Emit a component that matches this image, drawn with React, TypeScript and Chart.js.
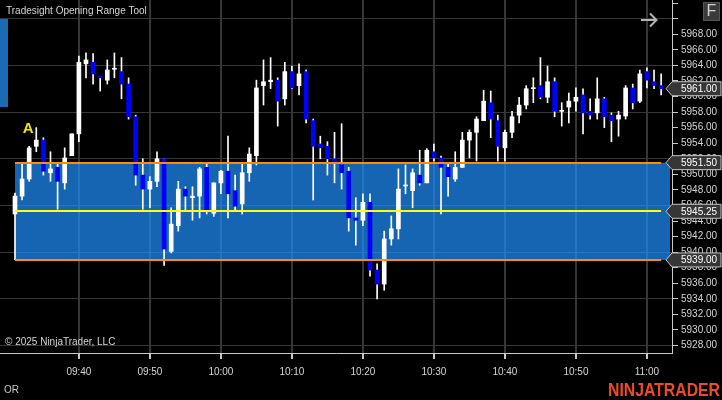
import React, { useEffect, useRef } from 'react';
import { Chart, registerables } from 'chart.js';

Chart.register(...registerables);

// ---------- data ----------
const BAR_TIMES = [
  '09:31', '09:32', '09:33', '09:34', '09:35', '09:36', '09:37', '09:38', '09:39', '09:40',
  '09:41', '09:42', '09:43', '09:44', '09:45', '09:46', '09:47', '09:48', '09:49', '09:50',
  '09:51', '09:52', '09:53', '09:54', '09:55', '09:56', '09:57', '09:58', '09:59', '10:00',
  '10:01', '10:02', '10:03', '10:04', '10:05', '10:06', '10:07', '10:08', '10:09', '10:10',
  '10:11', '10:12', '10:13', '10:14', '10:15', '10:16', '10:17', '10:18', '10:19', '10:20',
  '10:21', '10:22', '10:23', '10:24', '10:25', '10:26', '10:27', '10:28', '10:29', '10:30',
  '10:31', '10:32', '10:33', '10:34', '10:35', '10:36', '10:37', '10:38', '10:39', '10:40',
  '10:41', '10:42', '10:43', '10:44', '10:45', '10:46', '10:47', '10:48', '10:49', '10:50',
  '10:51', '10:52', '10:53', '10:54', '10:55', '10:56', '10:57', '10:58', '10:59', '11:00',
  '11:01', '11:02',
];

const OPEN = [
  5944.9, 5947.2, 5949.4, 5953.6, 5954.4, 5950.2, 5950.9, 5948.9, 5952.4, 5955.2,
  5964.2, 5964.4, 5962.6, 5962.1, 5963.5, 5963.2, 5961.6, 5957.4, 5949.9, 5948.1,
  5949.1, 5952.0, 5940.1, 5943.4, 5948.1, 5947.0, 5947.2, 5950.9, 5945.0, 5948.9,
  5950.4, 5947.9, 5946.2, 5950.2, 5952.4, 5961.4, 5961.9, 5962.1, 5959.7, 5963.2,
  5961.4, 5963.2, 5956.9, 5953.9, 5953.6, 5952.0, 5951.25, 5950.4, 5944.4, 5944.1,
  5946.4, 5937.7, 5935.9, 5941.7, 5943.0, 5948.5, 5947.9, 5949.9, 5948.9, 5952.9,
  5952.1, 5950.9, 5949.4, 5950.9, 5954.4, 5955.4, 5956.9, 5959.2, 5956.9, 5953.4,
  5955.4, 5957.6, 5958.9, 5961.0, 5961.4, 5959.9, 5961.9, 5958.1, 5958.65, 5959.4,
  5960.2, 5958.1, 5957.9, 5959.7, 5957.6, 5957.1, 5957.5, 5961.1, 5959.4, 5963.2,
  5961.9, 5961.4,
];

const HIGH = [
  5947.6, 5951.3, 5953.6, 5956.0, 5954.7, 5952.9, 5951.3, 5953.4, 5955.2, 5965.2,
  5965.6, 5965.5, 5962.6, 5964.7, 5965.6, 5965.0, 5962.4, 5957.6, 5952.0, 5949.7,
  5952.9, 5952.0, 5945.7, 5949.1, 5948.4, 5948.4, 5950.9, 5951.3, 5948.9, 5950.5,
  5954.9, 5949.9, 5951.3, 5953.4, 5962.1, 5964.7, 5965.0, 5962.4, 5964.4, 5963.9,
  5964.2, 5963.4, 5957.1, 5954.9, 5954.2, 5955.4, 5956.5, 5950.9, 5947.0, 5947.5,
  5947.5, 5938.5, 5942.7, 5944.65, 5950.7, 5951.2, 5950.7, 5953.1, 5953.3, 5953.9,
  5952.35, 5951.4, 5952.9, 5955.4, 5955.7, 5957.4, 5960.8, 5960.7, 5957.6, 5955.7,
  5958.1, 5959.9, 5961.4, 5962.4, 5965.0, 5963.9, 5962.4, 5959.2, 5960.45, 5961.1,
  5961.0, 5959.7, 5962.4, 5959.9, 5957.9, 5958.1, 5961.4, 5961.6, 5963.4, 5963.7,
  5963.4, 5962.9,
];

const LOW = [
  5939.0, 5946.7, 5949.1, 5952.9, 5949.9, 5949.1, 5945.5, 5948.1, 5952.4, 5954.2,
  5962.4, 5961.6, 5960.7, 5961.6, 5962.4, 5959.7, 5957.1, 5948.6, 5945.5, 5945.7,
  5948.4, 5938.3, 5939.9, 5942.7, 5945.4, 5944.1, 5944.4, 5944.9, 5944.6, 5947.5,
  5944.4, 5945.3, 5944.9, 5949.1, 5951.2, 5958.9, 5961.0, 5956.2, 5958.9, 5961.0,
  5960.2, 5956.6, 5946.7, 5952.0, 5949.9, 5948.9, 5948.1, 5942.7, 5940.9, 5943.4,
  5936.9, 5934.0, 5935.1, 5940.9, 5941.7, 5947.5, 5945.7, 5948.6, 5948.9, 5951.7,
  5944.9, 5947.2, 5949.1, 5950.9, 5952.1, 5951.7, 5956.9, 5954.7, 5951.7, 5951.7,
  5954.7, 5956.6, 5958.4, 5959.2, 5959.7, 5959.2, 5957.4, 5956.2, 5956.6, 5958.1,
  5955.2, 5957.1, 5957.1, 5956.0, 5954.2, 5954.9, 5957.1, 5958.4, 5959.2, 5961.1,
  5961.0, 5960.2,
];

const CLOSE = [
  5947.2, 5949.4, 5953.4, 5954.4, 5950.4, 5950.7, 5949.1, 5952.1, 5955.2, 5964.4,
  5964.7, 5962.9, 5962.4, 5963.4, 5963.5, 5961.6, 5957.4, 5949.9, 5948.1, 5949.1,
  5952.0, 5940.4, 5943.6, 5948.1, 5947.2, 5947.2, 5950.7, 5945.3, 5948.9, 5950.4,
  5947.5, 5945.9, 5950.2, 5952.6, 5961.1, 5961.9, 5962.1, 5959.4, 5963.2, 5961.1,
  5962.9, 5957.1, 5953.6, 5953.4, 5952.0, 5951.4, 5950.2, 5944.4, 5944.1, 5946.4,
  5937.7, 5935.9, 5941.7, 5943.0, 5948.1, 5948.5, 5950.2, 5948.9, 5953.1, 5952.1,
  5950.9, 5949.7, 5950.9, 5954.4, 5955.4, 5957.1, 5959.4, 5957.1, 5953.6, 5955.4,
  5957.4, 5958.9, 5961.0, 5961.0, 5959.9, 5961.9, 5958.1, 5958.1, 5959.4, 5959.9,
  5957.9, 5957.6, 5959.7, 5957.4, 5956.9, 5957.6, 5961.1, 5959.2, 5962.9, 5962.1,
  5961.4, 5961.0,
];

const TIME_TICKS = ['09:40', '09:50', '10:00', '10:10', '10:20', '10:30', '10:40', '10:50', '11:00'];
const PRICE_TICKS = [
  5928, 5930, 5932, 5934, 5936, 5938, 5940, 5942, 5944, 5946, 5948,
  5950, 5952, 5954, 5956, 5958, 5960, 5962, 5964, 5966, 5968, 5970, 5972,
];
const PRICE_LABEL_MAX = 5968;
const PRICE_GRID_STEP = 6;

const OR_HIGH = 5951.5;
const OR_MID = 5945.25;
const OR_LOW = 5939.0;
const MARKER_A = { time: '09:33', price: 5955.8, text: 'A' };

const SESSION_START = '09:30';

// ---------- styles ----------
const UP = '#ffffff';
const DOWN = '#0000ff';
const WICK = '#ffffff';
const GRID = '#363636';
const AXIS = '#c8c8c8';
const TEXT = '#d4d4d4';
const FONT = '"Liberation Sans", Arial, sans-serif';

const toMin = (t: string) => {
  const [h, m] = t.split(':').map(Number);
  const [h0, m0] = SESSION_START.split(':').map(Number);
  return h * 60 + m - (h0 * 60 + m0);
};

export default function App() {
  const ref = useRef<HTMLCanvasElement>(null);

  useEffect(() => {
    const canvas = ref.current;
    if (!canvas) return;
    const mins = BAR_TIMES.map(toMin);
    const wicks = mins.map((m, i) => ({ x: m, y: [LOW[i], HIGH[i]] }));
    const bodies = mins.map((m, i) => ({ x: m, y: [OPEN[i], CLOSE[i]] }));
    const bodyColors = OPEN.map((o, i) => (CLOSE[i] >= o ? UP : DOWN));
    const lastPrice = CLOSE[CLOSE.length - 1];

    const drawFlag = (ctx: CanvasRenderingContext2D, area: any, y: number, text: string) => {
      const tip = area.right - 6;
      const sh = area.right;
      const r = 721;
      const h = 7;
      ctx.save();
      ctx.beginPath();
      ctx.moveTo(tip, y);
      ctx.lineTo(sh, y - h);
      ctx.lineTo(r, y - h);
      ctx.lineTo(r, y + h);
      ctx.lineTo(sh, y + h);
      ctx.closePath();
      ctx.fillStyle = '#363636';
      ctx.fill();
      ctx.lineWidth = 1;
      ctx.strokeStyle = '#c4c4c4';
      ctx.stroke();
      ctx.fillStyle = '#ffffff';
      ctx.font = `10px ${FONT}`;
      ctx.textBaseline = 'middle';
      ctx.textAlign = 'left';
      ctx.fillText(text, 681, y + 0.5);
      ctx.restore();
    };

    const overlay = {
      id: 'overlay',
      beforeDatasetsDraw(chart: any) {
        const { ctx, chartArea: a, scales } = chart;
        ctx.save();
        // vertical time grid lines and axis tick marks from the x scale
        ctx.lineWidth = 1;
        scales.x.ticks.forEach((t: any) => {
          const px = Math.round(scales.x.getPixelForValue(t.value)) + 0.5;
          ctx.strokeStyle = GRID;
          ctx.beginPath();
          ctx.moveTo(px, a.top);
          ctx.lineTo(px, a.bottom);
          ctx.stroke();
          ctx.strokeStyle = AXIS;
          ctx.beginPath();
          ctx.moveTo(px, a.bottom);
          ctx.lineTo(px, a.bottom + 6);
          ctx.stroke();
        });
        // opening range box
        const x0 = scales.x.getPixelForValue(mins[0]);
        const yT = scales.y.getPixelForValue(OR_HIGH);
        const yB = scales.y.getPixelForValue(OR_LOW);
        ctx.fillStyle = 'rgba(30,144,255,0.7)';
        ctx.fillRect(x0, yT, a.right - 2 - x0, yB - yT);
        ctx.restore();
      },
      afterDatasetsDraw(chart: any) {
        const { ctx, scales } = chart;
        const x0 = scales.x.getPixelForValue(mins[0]);
        const x1 = scales.x.getPixelForValue(mins[mins.length - 1]);
        ctx.save();
        ctx.lineWidth = 2;
        const line = (p: number, c: string) => {
          const y = Math.round(scales.y.getPixelForValue(p));
          ctx.strokeStyle = c;
          ctx.beginPath();
          ctx.moveTo(x0, y);
          ctx.lineTo(x1, y);
          ctx.stroke();
        };
        line(OR_HIGH, '#ff8c00');
        line(OR_LOW, '#ff8c00');
        line(OR_MID, '#ffff00');
        // marker A
        ctx.fillStyle = '#f5e600';
        ctx.font = `bold 15px ${FONT}`;
        ctx.textAlign = 'center';
        ctx.textBaseline = 'middle';
        ctx.fillText(
          MARKER_A.text,
          scales.x.getPixelForValue(toMin(MARKER_A.time)) - 1,
          scales.y.getPixelForValue(MARKER_A.price)
        );
        ctx.restore();
      },
      afterDraw(chart: any) {
        const { ctx, chartArea: a, scales } = chart;
        ctx.save();
        // title
        ctx.fillStyle = TEXT;
        ctx.font = `10px ${FONT}`;
        ctx.textAlign = 'left';
        ctx.textBaseline = 'middle';
        ctx.fillText('Tradesight Opening Range Tool', 6, 11);
        // copyright
        ctx.fillText('\u00A9 2025 NinjaTrader, LLC', 5, 342);
        // OR
        ctx.fillStyle = '#c8c8c8';
        ctx.fillText('OR', 4, 390);
        // left blue bar
        ctx.fillStyle = '#1a6ab4';
        ctx.fillRect(0, 19, 8, 88);
        // arrow
        ctx.strokeStyle = '#b4b4b4';
        ctx.lineWidth = 2;
        ctx.beginPath();
        ctx.moveTo(641, 20);
        ctx.lineTo(657, 20);
        ctx.moveTo(650, 13.5);
        ctx.lineTo(656.5, 20);
        ctx.lineTo(650, 26.5);
        ctx.stroke();
        // F button
        ctx.fillStyle = '#3a3a3a';
        ctx.fillRect(703, 2, 17, 19);
        ctx.strokeStyle = '#555555';
        ctx.lineWidth = 1;
        ctx.strokeRect(703.5, 2.5, 16, 18);
        ctx.fillStyle = '#d0d0d0';
        ctx.font = `16px ${FONT}`;
        ctx.textAlign = 'center';
        ctx.fillText('F', 711.5, 12);
        // price flags
        drawFlag(ctx, a, scales.y.getPixelForValue(lastPrice), lastPrice.toFixed(2));
        drawFlag(ctx, a, scales.y.getPixelForValue(OR_HIGH), OR_HIGH.toFixed(2));
        drawFlag(ctx, a, scales.y.getPixelForValue(OR_MID), OR_MID.toFixed(2));
        drawFlag(ctx, a, scales.y.getPixelForValue(OR_LOW), OR_LOW.toFixed(2));
        // logo
        ctx.font = `bold 18px ${FONT}`;
        const txt = 'NINJATRADER';
        const w = ctx.measureText(txt).width;
        ctx.translate(608, 396);
        ctx.scale(112 / w, 1);
        ctx.fillStyle = '#ee4a26';
        ctx.textAlign = 'left';
        ctx.textBaseline = 'alphabetic';
        ctx.fillText(txt, 0, 0);
        ctx.restore();
      },
    };

    const chart = new Chart(canvas, {
      type: 'bar',
      data: {
        datasets: [
          {
            data: bodies as any,
            backgroundColor: bodyColors,
            borderWidth: 0,
            barThickness: 4,
            minBarLength: 1,
            grouped: false,
            order: 0,
          } as any,
          {
            data: wicks as any,
            backgroundColor: WICK,
            borderWidth: 0,
            barThickness: 1,
            grouped: false,
            order: 1,
          } as any,
        ],
      },
      options: {
        responsive: false,
        animation: false,
        events: [],
        layout: { padding: 0 },
        plugins: { legend: { display: false }, tooltip: { enabled: false } },
        scales: {
          x: {
            type: 'linear',
            offset: false,
            min: -1.11,
            max: 93.53,
            afterBuildTicks: (s: any) => {
              s.ticks = TIME_TICKS.map((t) => ({ value: toMin(t) }));
            },
            afterFit: (s: any) => {
              s.height = 47;
              s.paddingLeft = 0;
              s.paddingRight = 0;
              s.paddingTop = 0;
              s.paddingBottom = 0;
            },
            ticks: {
              callback: (_v: any, i: number) => TIME_TICKS[i],
              color: TEXT,
              font: { family: FONT, size: 10 },
              padding: 7,
              maxRotation: 0,
              autoSkip: false,
            },
            grid: { color: GRID, offset: false, tickLength: 6, tickColor: AXIS, drawTicks: true },
            border: { display: true, color: AXIS },
          },
          y: {
            type: 'linear',
            position: 'right',
            min: 5927.04,
            max: 5972.4,
            afterBuildTicks: (s: any) => {
              s.ticks = PRICE_TICKS.map((v) => ({ value: v }));
            },
            afterFit: (s: any) => {
              s.width = 50;
              s.paddingLeft = 0;
              s.paddingRight = 0;
              s.paddingTop = 0;
              s.paddingBottom = 0;
            },
            ticks: {
              callback: (v: any) => (Number(v) <= PRICE_LABEL_MAX ? Number(v).toFixed(2) : ''),
              color: TEXT,
              font: { family: FONT, size: 10 },
              padding: 3,
            },
            grid: {
              color: (c: any) =>
                c.tick && Math.round(c.tick.value) % PRICE_GRID_STEP === 0 ? GRID : 'rgba(0,0,0,0)',
              offset: false,
              tickLength: 6,
              tickColor: AXIS,
              drawTicks: true,
            },
            border: { display: true, color: AXIS },
          },
        },
      } as any,
      plugins: [overlay],
    });
    return () => chart.destroy();
  }, []);

  return (
    <div
      style={{
        position: 'fixed',
        left: 0,
        top: 0,
        width: 722,
        height: 400,
        background: '#000000',
        margin: 0,
        overflow: 'hidden',
      }}
    >
      <canvas ref={ref} width={722} height={400} style={{ display: 'block' }} />
    </div>
  );
}
